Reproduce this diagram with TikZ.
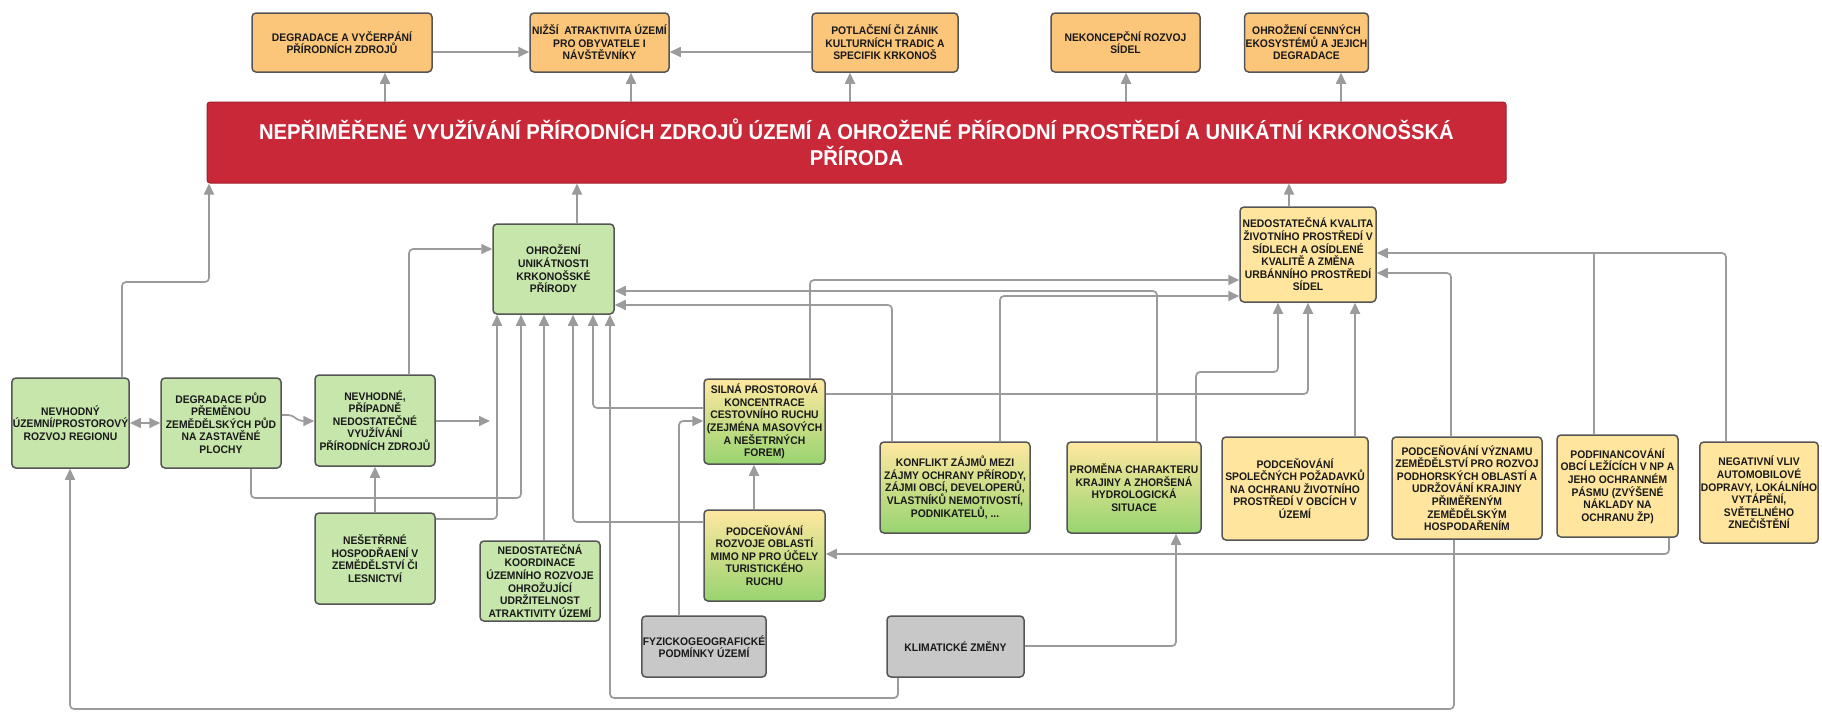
\documentclass[tikz,border=0pt]{standalone}
\usepackage{fontspec}
\setmainfont{Liberation Sans}[BoldFont={Liberation Sans Bold},FakeStretch=0.94]
\usetikzlibrary{arrows.meta}
\definecolor{boxorange}{RGB}{252,198,122}
\definecolor{barred}{RGB}{200,40,56}
\definecolor{boxgreen}{RGB}{199,230,172}
\definecolor{boxyellow}{RGB}{255,229,158}
\definecolor{gradtop}{RGB}{255,232,160}
\definecolor{gradbot}{RGB}{152,212,112}
\definecolor{boxgray}{RGB}{200,200,200}
\definecolor{edgegray}{RGB}{85,85,85}
\definecolor{linegray}{RGB}{155,155,155}
\definecolor{txt}{RGB}{25,25,25}

\begin{document}
\begin{tikzpicture}[x=1pt,y=-1pt,>={Triangle[length=11pt,width=10pt]},
	box/.style={draw=edgegray,line width=1.5pt,rounded corners=4pt,align=center,inner sep=1pt,
		font=\bfseries\fontsize{11}{12.6}\selectfont,text=txt},
	obox/.style={box,fill=boxorange},
	gbox/.style={box,fill=boxgreen},
	ybox/.style={box,fill=boxyellow},
	gybox/.style={box,top color=gradtop,bottom color=gradbot},
	sbox/.style={box,fill=boxgray},
	wire/.style={draw=linegray,line width=1.7pt,rounded corners=4pt},
	conn/.style={wire,->}]
	\useasboundingbox (0,0) rectangle (1822,712);

	\node[obox,minimum width=180pt,minimum height=59pt] (degr) at (342,42.5) {DEGRADACE A VYČERPÁNÍ\\PŘÍRODNÍCH ZDROJŮ};
	\node[obox,minimum width=139pt,minimum height=59pt] (nizsi) at (599.5,42.5) {NIŽŠÍ~ ATRAKTIVITA ÚZEMÍ\\PRO OBYVATELE I\\NÁVŠTĚVNÍKY};
	\node[obox,minimum width=146pt,minimum height=59pt] (potl) at (885,42.5) {POTLAČENÍ ČI ZÁNIK\\KULTURNÍCH TRADIC A\\SPECIFIK KRKONOŠ};
	\node[obox,minimum width=149pt,minimum height=59pt] (nekon) at (1125.5,42.5) {NEKONCEPČNÍ ROZVOJ\\SÍDEL};
	\node[obox,minimum width=119pt,minimum height=59pt] (ekosys) at (1306.5,42.5) {OHROŽENÍ CENNÝCH\\EKOSYSTÉMŮ A JEJICH\\DEGRADACE};

	\node[draw=barred!80!black,line width=1pt,fill=barred,rounded corners=3pt,minimum width=1299pt,minimum height=81pt,
		align=center,text=white,font=\bfseries\fontsize{21.5}{26}\selectfont] (bar) at (856.5,142.5)
		{NEPŘIMĚŘENÉ VYUŽÍVÁNÍ PŘÍRODNÍCH ZDROJŮ ÚZEMÍ A OHROŽENÉ PŘÍRODNÍ PROSTŘEDÍ A UNIKÁTNÍ KRKONOŠSKÁ\\PŘÍRODA};

	\node[gbox,minimum width=121pt,minimum height=90pt] (unik) at (553.5,269) {OHROŽENÍ\\UNIKÁTNOSTI\\KRKONOŠSKÉ\\PŘÍRODY};
	\node[ybox,minimum width=136pt,minimum height=95pt] (kval) at (1308,254.5) {NEDOSTATEČNÁ KVALITA\\ŽIVOTNÍHO PROSTŘEDÍ V\\SÍDLECH A OSÍDLENÉ\\KVALITĚ A ZMĚNA\\URBÁNNÍHO PROSTŘEDÍ\\SÍDEL};

	\node[gbox,minimum width=115pt,minimum height=90pt] (rozvoj) at (70.5,423) {NEVHODNÝ\\ÚZEMNÍ/PROSTOROVÝ\\ROZVOJ REGIONU};
	\node[gbox,minimum width=120pt,minimum height=90pt] (pudy) at (221,423) {DEGRADACE PŮD\\PŘEMĚNOU\\ZEMĚDĚLSKÝCH PŮD\\NA ZASTAVĚNÉ\\PLOCHY};
	\node[gbox,minimum width=120pt,minimum height=91pt] (vyuz) at (375,420.5) {NEVHODNÉ,\\PŘÍPADNĚ\\NEDOSTATEČNÉ\\VYUŽÍVÁNÍ\\PŘÍRODNÍCH ZDROJŮ};
	\node[gbox,minimum width=120pt,minimum height=91pt] (hosp) at (375,558.5) {NEŠETŘRNÉ\\HOSPODŘAENÍ V\\ZEMĚDĚLSTVÍ ČI\\LESNICTVÍ};
	\node[gbox,minimum width=120pt,minimum height=80pt] (koord) at (540,581) {NEDOSTATEČNÁ\\KOORDINACE\\ÚZEMNÍHO ROZVOJE\\OHROŽUJÍCÍ\\UDRŽITELNOST\\ATRAKTIVITY ÚZEMÍ};

	\node[gybox,minimum width=121pt,minimum height=85pt] (silna) at (764.5,421.5) {SILNÁ PROSTOROVÁ\\KONCENTRACE\\CESTOVNÍHO RUCHU\\(ZEJMÉNA MASOVÝCH\\A NEŠETRNÝCH\\FOREM)};
	\node[gybox,minimum width=121pt,minimum height=91pt] (mimo) at (764.5,555.5) {PODCEŇOVÁNÍ\\ROZVOJE OBLASTÍ\\MIMO NP PRO ÚČELY\\TURISTICKÉHO\\RUCHU};
	\node[sbox,minimum width=122pt,minimum height=61pt] (fyz) at (704,646.5) {FYZICKOGEOGRAFICKÉ\\PODMÍNKY ÚZEMÍ};
	\node[sbox,minimum width=137pt,minimum height=61pt] (klima) at (955.5,646.5) {KLIMATICKÉ ZMĚNY};
	\node[gybox,minimum width=150pt,minimum height=91pt] (konflikt) at (955,487.5) {KONFLIKT ZÁJMŮ MEZI\\ZÁJMY OCHRANY PŘÍRODY,\\ZÁJMI OBCÍ, DEVELOPERŮ,\\VLASTNÍKŮ NEMOTIVOSTÍ,\\PODNIKATELŮ, ...};
	\node[gybox,minimum width=134pt,minimum height=91pt] (krajina) at (1134,487.5) {PROMĚNA CHARAKTERU\\KRAJINY A ZHORŠENÁ\\HYDROLOGICKÁ\\SITUACE};

	\node[ybox,minimum width=146pt,minimum height=103pt] (spol) at (1295,488.5) {PODCEŇOVÁNÍ\\SPOLEČNÝCH POŽADAVKŮ\\NA OCHRANU ŽIVOTNÍHO\\PROSTŘEDÍ V OBCÍCH V\\ÚZEMÍ};
	\node[ybox,minimum width=150pt,minimum height=102pt] (zemed) at (1467,488) {PODCEŇOVÁNÍ VÝZNAMU\\ZEMĚDĚLSTVÍ PRO ROZVOJ\\PODHORSKÝCH OBLASTÍ A\\UDRŽOVÁNÍ KRAJINY\\PŘIMĚŘENÝM\\ZEMĚDĚLSKÝM\\HOSPODAŘENÍM};
	\node[ybox,minimum width=121pt,minimum height=102pt] (podfin) at (1617.5,486) {PODFINANCOVÁNÍ\\OBCÍ LEŽÍCÍCH V NP A\\JEHO OCHRANNÉM\\PÁSMU (ZVÝŠENÉ\\NÁKLADY NA\\OCHRANU ŽP)};
	\node[ybox,minimum width=118pt,minimum height=101pt] (negat) at (1759,492.5) {NEGATIVNÍ VLIV\\AUTOMOBILOVÉ\\DOPRAVY, LOKÁLNÍHO\\VYTÁPĚNÍ,\\SVĚTELNÉHO\\ZNEČIŠTĚNÍ};

	\coordinate (gap) at (490,421);

	\draw[conn] (degr.east |- 0,52) -- (nizsi.west |- 0,52);
	\draw[conn] (potl.west |- 0,52) -- (nizsi.east |- 0,52);
	\foreach \x/\n in {385/degr,631/nizsi,850/potl,1126/nekon,1341/ekosys}
		{\draw[conn] (\x,0 |- bar.north) -- (\x,0 |- \n.south);}

	\draw[conn] (122,0 |- rozvoj.north) |- (209,282) -- (209,0 |- bar.south);
	\draw[conn] (577,0 |- unik.north) -- (577,0 |- bar.south);
	\draw[conn] (1289,0 |- kval.north) -- (1289,0 |- bar.south);

	\draw[conn,<->] (rozvoj.east |- 0,423) -- (pudy.west |- 0,423);
	\draw[conn] (pudy.east |- 0,415) -- (292,415) -- (299,421) -- (vyuz.west |- 0,421);
	\draw[conn] (vyuz.east |- 0,421) -- (gap);
	\draw[conn] (409,0 |- vyuz.north) |- (unik.west |- 0,249);
	\draw[conn] (hosp.north) -- (vyuz.south);
	\draw[conn] (hosp.east |- 0,519) -| (497,0 |- unik.south);
	\draw[conn] (251,0 |- pudy.south) |- (521,498) -- (521,0 |- unik.south);
	\draw[conn] (544,0 |- koord.north) -- (544,0 |- unik.south);
	\draw[conn] (mimo.west |- 0,522) -| (573,0 |- unik.south);
	\draw[conn] (silna.west |- 0,408) -| (593,0 |- unik.south);
	\draw[conn] (898,0 |- klima.south) |- (610,698) -- (610,0 |- unik.south);
	\draw[conn] (1157,0 |- krajina.north) |- (unik.east |- 0,291);
	\draw[conn] (892,0 |- konflikt.north) |- (unik.east |- 0,305);

	\draw[conn] (810,0 |- silna.north) |- (kval.west |- 0,280);
	\draw[conn] (1000,0 |- konflikt.north) |- (kval.west |- 0,296);
	\draw[conn] (1196,0 |- krajina.north) |- (1278,372) -- (1278,0 |- kval.south);
	\draw[conn] (silna.east |- 0,394) -| (1308,0 |- kval.south);
	\draw[conn] (1355,0 |- spol.north) -- (1355,0 |- kval.south);
	\draw[wire] (1594,0 |- podfin.north) -- (1594,253);
	\draw[conn] (1726,0 |- negat.north) |- (kval.east |- 0,253);
	\draw[conn] (1451,0 |- zemed.north) |- (kval.east |- 0,273);

	\draw[conn] (754,0 |- mimo.north) -- (754,0 |- silna.south);
	\draw[conn] (679,0 |- fyz.north) |- (silna.west |- 0,421);
	\draw[conn] (klima.east |- 0,646) -| (1176,0 |- krajina.south);
	\draw[conn] (1669,0 |- podfin.south) |- (mimo.east |- 0,554);
	\draw[conn] (1454,0 |- zemed.south) |- (70,709) -- (70,0 |- rozvoj.south);
\end{tikzpicture}
\end{document}
